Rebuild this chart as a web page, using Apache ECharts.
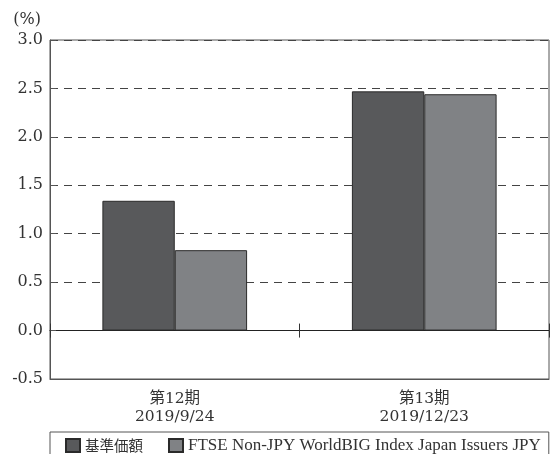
<!DOCTYPE html>
<html>
<head>
<meta charset="utf-8">
<script src="https://cdn.jsdelivr.net/npm/echarts@6/dist/echarts.min.js"></script>
<style>html,body{margin:0;padding:0;background:#fff}#c{width:552px;height:454px}</style>
</head>
<body>
<div id="c"></div>
<script>
const categories = ['第12期\n2019/9/24', '第13期\n2019/12/23'];
const seriesNames = ['基準価額', 'FTSE Non-JPY WorldBIG Index Japan Issuers JPY'];
const fundValues = [1.34, 2.47];
const indexValues = [0.83, 2.44];
const yMin = -0.5, yMax = 3.0, yStep = 0.5;

const gridTop = 40, gridBottom = 75, H = 454;
const plotH = H - gridTop - gridBottom;
const zeroOffset = -plotH * (0 - yMin) / (yMax - yMin);

const chart = echarts.init(document.getElementById('c'));
const serif = 'DejaVu Serif, Noto Sans CJK JP';
chart.setOption({
  animation: false,
  grid: { left: 50, right: 3, top: gridTop, bottom: gridBottom, show: true, borderColor: '#555', borderWidth: 1, backgroundColor: 'transparent' },
  xAxis: [
    { type: 'category', data: categories, position: 'bottom',
      axisLine: { onZero: false, lineStyle: { color: '#555' } },
      axisTick: { show: false },
      axisLabel: { color: '#333', fontFamily: serif, fontSize: 15.5, lineHeight: 18, margin: 11 } },
    { type: 'category', data: categories, position: 'bottom',
      axisLine: { onZero: true, lineStyle: { color: '#222', width: 1.2 } },
      axisTick: { show: true, length: 7, lineStyle: { color: '#333' } },
      axisLabel: { show: false } },
    { type: 'category', data: categories, position: 'bottom', offset: zeroOffset,
      axisLine: { show: false, onZero: false },
      axisTick: { show: true, inside: true, length: 7, lineStyle: { color: '#333' } },
      axisLabel: { show: false } }
  ],
  yAxis: {
    type: 'value', min: yMin, max: yMax, interval: yStep,
    name: '(%)', nameLocation: 'end', nameGap: 12,
    nameTextStyle: { align: 'right', padding: [0, 9, 0, 0], color: '#333', fontFamily: serif, fontSize: 16 },
    axisLine: { show: true, lineStyle: { color: '#555' } },
    axisTick: { show: true, inside: true, length: 6, lineStyle: { color: '#555' } },
    axisLabel: { color: '#333', fontFamily: serif, fontSize: 16, margin: 7, formatter: v => v.toFixed(1) },
    splitLine: { show: true, lineStyle: { color: '#444', type: [8, 6], width: 1 } }
  },
  legend: {
    left: 50, top: 432, orient: 'horizontal', icon: 'rect',
    padding: [5, 8, 8, 15], itemGap: 25, itemWidth: 14, itemHeight: 13,
    borderColor: '#555', borderWidth: 1,
    textStyle: { color: '#333', fontFamily: 'Liberation Serif', fontSize: 17,
      rich: { j: { fontFamily: 'Noto Sans CJK JP', fontSize: 14.5, color: '#333' } } },
    formatter: n => /[^\x00-\x7F]/.test(n) ? '{j|' + n + '}' : n,
    data: seriesNames
  },
  series: [
    { name: seriesNames[0], type: 'bar', data: fundValues, barWidth: '29%', barGap: '0%',
      itemStyle: { color: '#58595b', borderColor: '#2a2a2a', borderWidth: 1 } },
    { name: seriesNames[1], type: 'bar', data: indexValues, barWidth: '29%', barGap: '0%',
      itemStyle: { color: '#808285', borderColor: '#2a2a2a', borderWidth: 1 } }
  ]
});
</script>
</body>
</html>
